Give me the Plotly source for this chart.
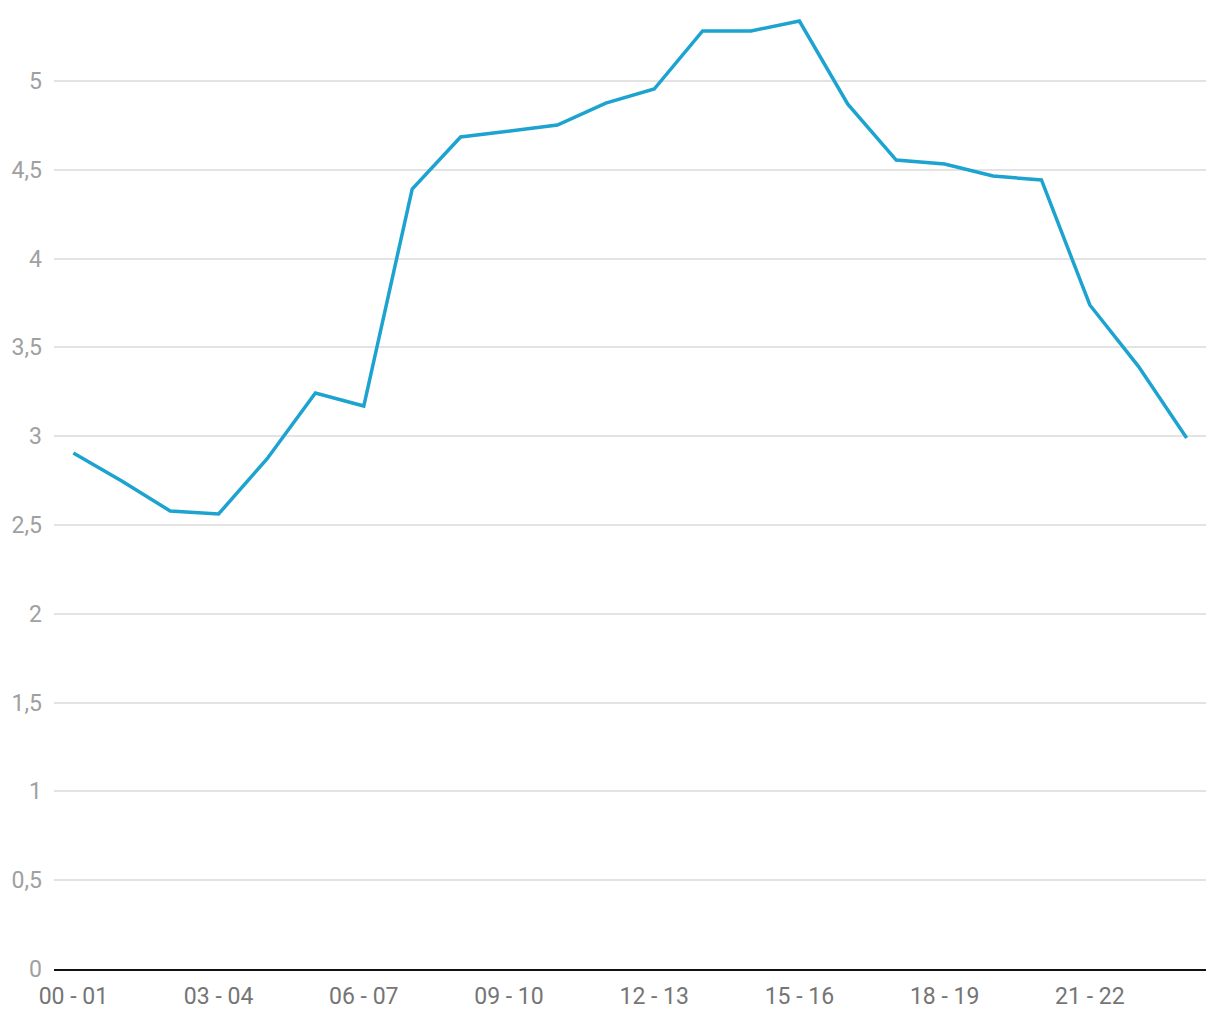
import plotly.graph_objects as go

hours = [f"{h:02d} - {h+1:02d}" for h in range(24)]
values = [2.905, 2.748, 2.579, 2.562, 2.872, 3.243, 3.170, 4.392, 4.685, 4.718,
          4.752, 4.876, 4.955, 5.282, 5.282, 5.338, 4.870, 4.555, 4.533, 4.465,
          4.443, 3.739, 3.395, 2.990]
y_ticks = [0, 0.5, 1, 1.5, 2, 2.5, 3, 3.5, 4, 4.5, 5]

fig = go.Figure(go.Scatter(
    x=list(range(24)), y=values, mode="lines",
    line=dict(color="#1ca3d0", width=3.5),
    hoverinfo="skip",
))

# the page body has an 8px default margin, so offset the figure accordingly
fig.update_layout(
    width=1212, height=1012,
    margin=dict(l=46, r=14, t=2, b=51, autoexpand=False),
    plot_bgcolor="white", paper_bgcolor="white",
    separators=",.",
    font=dict(family="Roboto", size=23),
    showlegend=False,
)
fig.update_xaxes(
    range=[-0.4, 23.4],
    tickvals=list(range(0, 24, 3)),
    ticktext=hours[::3],
    showgrid=False, zeroline=False,
    showline=True, linecolor="#111111", linewidth=2,
    tickfont=dict(color="#757575", size=23),
    ticks="", ticklabelstandoff=5, automargin=False,
)
fig.update_yaxes(
    range=[0, 5.4],
    tickvals=y_ticks,
    showgrid=True, gridcolor="#e3e3e3", gridwidth=1.5,
    zeroline=False, showline=False,
    tickfont=dict(color="#a0a0a0", size=23),
    ticks="", ticklabelstandoff=11, automargin=False,
)

fig.write_html("out.html")
